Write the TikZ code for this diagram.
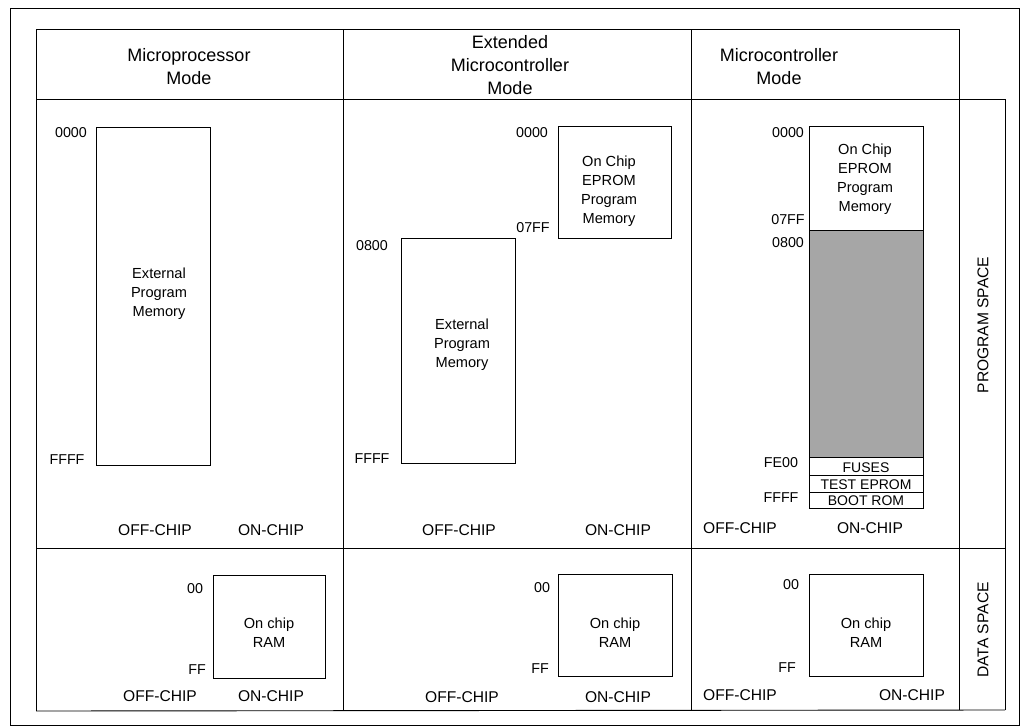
\documentclass[tikz,border=0pt]{standalone}
\usepackage{fontspec}
\setmainfont{Liberation Sans}
\begin{document}
\begin{tikzpicture}[x=1pt,y=-1pt,
  frame/.style={line width=0.9pt},
  membox/.style={draw,line width=0.9pt,inner sep=0pt,anchor=north west},
  addr/.style={font=\fontsize{14.3}{15}\selectfont,inner sep=0pt},
  chip/.style={font=\fontsize{15.6}{16}\selectfont,inner sep=0pt},
  boxtxt/.style={font=\fontsize{14.6}{19}\selectfont,align=center,inner sep=0pt},
  small/.style={font=\fontsize{14}{14}\selectfont,inner sep=0pt},
  head/.style={font=\fontsize{18}{23}\selectfont,align=center,inner sep=0pt},
  side/.style={font=\fontsize{15.6}{16}\selectfont,rotate=90,inner sep=0pt}]
\useasboundingbox (0,0) rectangle (1026,728);
% outer frame
\draw[line width=0.7pt] (10,8) rectangle (1019,725);
% table
\draw[frame] (36,29) -- (959,29);
\draw[frame] (36,29) -- (36,711);
\draw[frame] (343,29) -- (343,711);
\draw[frame] (691,29) -- (691,711);
\draw[frame] (959,29) -- (959,710);
\draw[frame] (36,99) -- (1005,99);
\draw[frame] (1005,99) -- (1005,710);
\draw[frame] (36,548) -- (1005,548);
\draw[frame] (36,711) -- (1005,710);
% headers
\node[head] (h1) at (189,67) {Microprocessor\\Mode};
\node[head] (h2) at (510,65) {Extended\\Microcontroller\\Mode};
\node[head] (h3) at (779,67) {Microcontroller\\Mode};
% side labels
\node[side] (ps) at (983,325) {PROGRAM SPACE};
\node[side] (ds) at (983,630) {DATA SPACE};
% ---- Microprocessor mode
\node[membox,minimum width=114pt,minimum height=338pt] (mpext) at (96,127) {};
\node[boxtxt] (mpextt) at (159,294) {External\\Program\\Memory};
\node[addr] (mpa0) at (71,133) {0000};
\node[addr] (mpa1) at (67,460) {FFFF};
\node[chip] (mpoff) at (155,530) {OFF-CHIP};
\node[chip] (mpon) at (271,530) {ON-CHIP};
\node[membox,minimum width=112pt,minimum height=103pt] (mpram) at (213,575) {};
\node[boxtxt] (mpramt) at (269,633) {On chip\\RAM};
\node[addr] (mpd0) at (195,589) {00};
\node[addr] (mpd1) at (197,670) {FF};
\node[chip] (mpdoff) at (160,696) {OFF-CHIP};
\node[chip] (mpdon) at (271,696) {ON-CHIP};
% ---- Extended microcontroller mode
\node[membox,minimum width=113pt,minimum height=112pt] (exep) at (558,126) {};
\node[boxtxt] (exept) at (609,191) {On Chip\\EPROM\\Program\\Memory};
\node[membox,minimum width=114pt,minimum height=225pt] (exext) at (401,238) {};
\node[boxtxt] (exextt) at (462,345) {External\\Program\\Memory};
\node[addr] (exa0) at (532,133) {0000};
\node[addr] (exa1) at (533,228) {07FF};
\node[addr] (exa2) at (372,246) {0800};
\node[addr] (exa3) at (372,459) {FFFF};
\node[chip] (exoff) at (459,530) {OFF-CHIP};
\node[chip] (exon) at (618,530) {ON-CHIP};
\node[membox,minimum width=114pt,minimum height=102pt] (exram) at (558,574) {};
\node[boxtxt] (exramt) at (615,633) {On chip\\RAM};
\node[addr] (exd0) at (542,588) {00};
\node[addr] (exd1) at (540,669) {FF};
\node[chip] (exdoff) at (462,697) {OFF-CHIP};
\node[chip] (exdon) at (618,697) {ON-CHIP};
% ---- Microcontroller mode
\node[membox,minimum width=114pt,minimum height=104pt] (mcep) at (809,126) {};
\node[boxtxt] (mcept) at (865,179) {On Chip\\EPROM\\Program\\Memory};
\node[membox,fill=black!35,minimum width=114pt,minimum height=227pt] (mcsh) at (809,230) {};
\node[membox,minimum width=114pt,minimum height=18pt] (mcfu) at (809,457) {};
\node[small,anchor=base] (mcfut) at (866,472) {FUSES};
\node[membox,minimum width=114pt,minimum height=17pt] (mcte) at (809,475) {};
\node[small,anchor=base] (mctet) at (866,489) {TEST EPROM};
\node[membox,minimum width=114pt,minimum height=16pt] (mcbo) at (809,492) {};
\node[small,anchor=base] (mcbot) at (866,505) {BOOT ROM};
\node[addr] (mca0) at (788,133) {0000};
\node[addr] (mca1) at (788,220) {07FF};
\node[addr] (mca2) at (788,243) {0800};
\node[addr] (mca3) at (781,463) {FE00};
\node[addr] (mca4) at (781,498) {FFFF};
\node[chip] (mcoff) at (740,528) {OFF-CHIP};
\node[chip] (mcon) at (870,528) {ON-CHIP};
\node[membox,minimum width=114pt,minimum height=102pt] (mcram) at (809,574) {};
\node[boxtxt] (mcramt) at (866,633) {On chip\\RAM};
\node[addr] (mcd0) at (791,585) {00};
\node[addr] (mcd1) at (787,668) {FF};
\node[chip] (mcdoff) at (740,695) {OFF-CHIP};
\node[chip] (mcdon) at (912,695) {ON-CHIP};
\end{tikzpicture}
\end{document}
